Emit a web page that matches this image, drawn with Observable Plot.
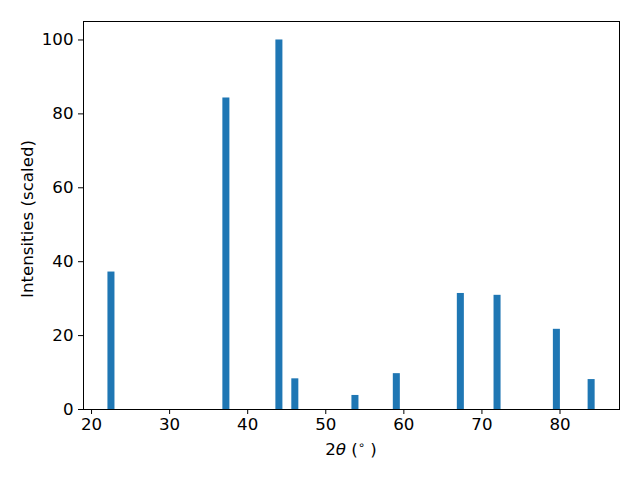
<!DOCTYPE html>
<html>
<head>
<meta charset="utf-8">
<script src="https://cdn.jsdelivr.net/npm/d3@7"></script>
<script src="https://cdn.jsdelivr.net/npm/@observablehq/plot@0.6"></script>
<style>
  html, body { margin: 0; padding: 0; background: white; }
</style>
</head>
<body>
<div id="chart"></div>
<script>
const twoTheta = [22.55, 37.27, 44.06, 46.1, 53.8, 59.1, 67.3, 72.0, 79.6, 84.05];
const intensity = [37.2, 84.3, 100, 8.3, 3.8, 9.7, 31.4, 30.9, 21.7, 8.1];
const barWidth = 0.9;
const xTicks = [20, 30, 40, 50, 60, 70, 80];
const yTicks = [0, 20, 40, 60, 80, 100];

const data = twoTheta.map((x, i) => ({x, y: intensity[i]}));
const FS = 16.67;

const plot = Plot.plot({
  width: 640,
  height: 480,
  marginLeft: 83,
  marginRight: 21,
  marginTop: 21,
  marginBottom: 71,
  style: {fontFamily: "DejaVu Sans", fontSize: FS + "px", color: "black", background: "white"},
  x: {domain: [18.97, 87.62]},
  y: {domain: [0, 105]},
  marks: [
    Plot.rectY(data, {x1: d => d.x - barWidth / 2, x2: d => d.x + barWidth / 2, y1: 0, y2: "y", fill: "#1f77b4"}),
    Plot.axisX({ticks: xTicks, tickSize: 5, tickPadding: 4, label: null, fontSize: FS}),
    Plot.axisY({ticks: yTicks, tickSize: 5, tickPadding: 5, label: null, fontSize: FS}),
    Plot.frame({stroke: "black", strokeWidth: 1})
  ]
});

document.getElementById("chart").appendChild(plot);

const svg = d3.select(plot);
const xl = svg.append("text")
  .attr("x", 351).attr("y", 455)
  .attr("text-anchor", "middle")
  .attr("font-family", "DejaVu Sans").attr("font-size", FS).attr("fill", "black");
xl.append("tspan").text("2");
xl.append("tspan").attr("font-style", "italic").attr("font-family", "DejaVu Sans").text("θ");
xl.append("tspan").text(" (");
xl.append("tspan").attr("font-size", 11.5).attr("dy", -6).text("∘");
xl.append("tspan").attr("dy", 6).text(" )");

svg.append("text")
  .attr("transform", "translate(33,219) rotate(-90)")
  .attr("text-anchor", "middle")
  .attr("font-family", "DejaVu Sans").attr("font-size", FS).attr("fill", "black")
  .text("Intensities (scaled)");
</script>
</body>
</html>
